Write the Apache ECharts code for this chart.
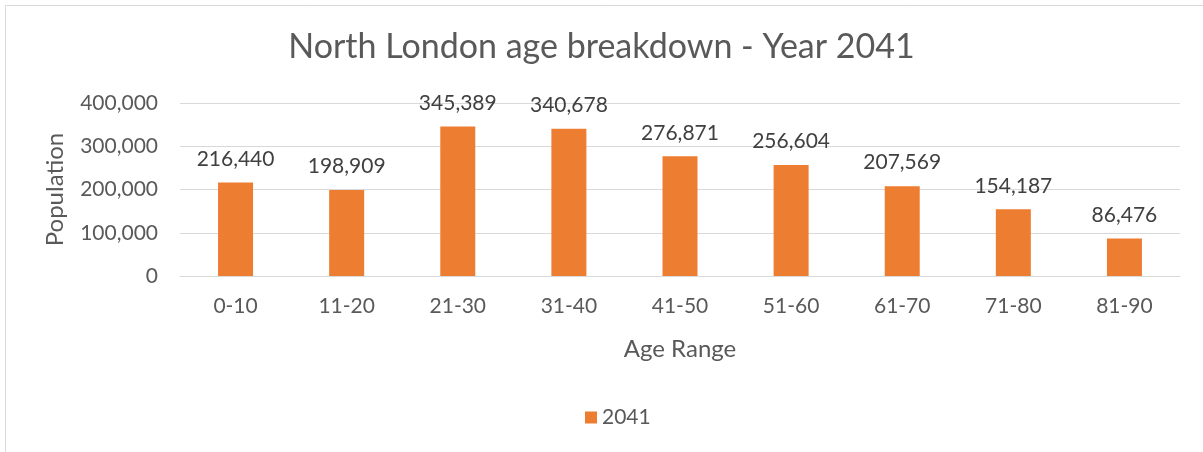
<!DOCTYPE html>
<html lang="en">

<head>
    <meta charset="UTF-8">
    <title>North London age breakdown - Year 2041</title>
    <style>
        html, body {
            margin: 0;
            padding: 0;
            background: #fff;
        }
    </style>
    <script src="https://cdn.jsdelivr.net/npm/echarts@6/dist/echarts.min.js"></script>
</head>

<body>
    <div id="box" style="width:1203px; height:452px;"></div>
    <script>
        // data
        const ageRanges = ['0-10', '11-20', '21-30', '31-40', '41-50', '51-60', '61-70', '71-80', '81-90'];
        const population2041 = [216440, 198909, 345389, 340678, 276871, 256604, 207569, 154187, 86476];
        const yTicks = [0, 100000, 200000, 300000, 400000];

        (function () {
            const font = 'Lato, "Open Sans", sans-serif';
            const fmt = v => v.toLocaleString('en-US');

            let option = {
                animation: false,
                textStyle: { fontFamily: font },
                graphic: [{
                    type: 'rect',
                    shape: { x: 5.5, y: 5.5, width: 1210, height: 460 },
                    style: { fill: 'none', stroke: '#d9d9d9', lineWidth: 1 }
                }],
                title: {
                    text: 'North London age breakdown - Year 2041',
                    left: 'center',
                    top: 25,
                    textStyle: { fontFamily: font, fontSize: 34, fontWeight: 'normal', color: '#595959' }
                },
                legend: {
                    data: ['2041'],
                    bottom: 19,
                    left: 580,
                    itemWidth: 12,
                    itemHeight: 12,
                    itemGap: 8,
                    icon: 'rect',
                    textStyle: { fontFamily: font, fontSize: 21, color: '#595959' }
                },
                grid: { left: 180, right: 23, top: 103, bottom: 176 },
                xAxis: {
                    type: 'category',
                    data: ageRanges,
                    name: 'Age Range',
                    nameLocation: 'middle',
                    nameGap: 61,
                    nameTextStyle: { fontSize: 24, color: '#595959' },
                    axisLine: { lineStyle: { color: '#d9d9d9', width: 1 } },
                    axisTick: { show: false },
                    axisLabel: { fontSize: 21, color: '#595959', margin: 20 }
                },
                yAxis: {
                    type: 'value',
                    min: yTicks[0],
                    max: yTicks[yTicks.length - 1],
                    interval: yTicks[1] - yTicks[0],
                    name: 'Population',
                    nameLocation: 'middle',
                    nameGap: 113,
                    nameTextStyle: { fontSize: 24, color: '#595959' },
                    axisLine: { show: false },
                    axisTick: { show: false },
                    splitLine: { lineStyle: { color: '#d9d9d9', width: 1 } },
                    axisLabel: { fontSize: 21, color: '#595959', margin: 22, formatter: fmt }
                },
                series: [{
                    name: '2041',
                    type: 'bar',
                    data: population2041,
                    barWidth: 35,
                    itemStyle: { color: '#ed7d31' },
                    label: {
                        show: true,
                        position: 'top',
                        distance: 13,
                        fontSize: 21,
                        color: '#404040',
                        formatter: p => fmt(p.value)
                    }
                }]
            };

            let chart = echarts.init(box);
            chart.setOption(option);
        })();
    </script>
</body>

</html>
